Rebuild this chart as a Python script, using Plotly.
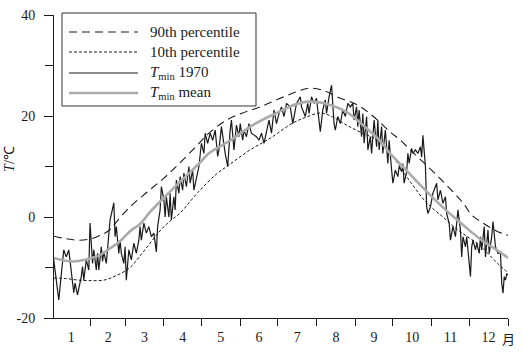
import plotly.graph_objects as go

# ---------------- data ----------------
p90_days = [2, 12, 22, 32, 42, 47, 52, 63, 77, 90, 102, 117, 126, 140, 153, 167, 181, 196, 206,
            217, 231, 244, 257, 271, 279, 291, 304, 312, 321, 329, 336, 345, 356, 365]
p90_vals = [-3.8, -4.3, -4.6, -4.3, -3.3, -2.5, -1.0, 2.0, 5.0, 7.7, 10.5, 14.3, 16.6, 19.2, 20.6,
            21.8, 23.3, 24.8, 25.5, 25.1, 23.5, 22.3, 20.0, 16.8, 15.2, 12.3, 9.3, 7.3, 5.0, 2.8,
            0.4, -1.2, -2.8, -3.6]

p10_days = [2, 12, 22, 32, 42, 52, 63, 70, 78, 86, 94, 103, 117, 132, 142, 159, 175, 193, 204,
            215, 225, 236, 247, 263, 272, 286, 300, 313, 322, 332, 342, 352, 358, 365]
p10_vals = [-12.1, -12.2, -12.5, -12.6, -12.5, -11.6, -10.0, -8.0, -5.5, -3.0, -1.0, 0.8, 4.8,
            8.5, 10.3, 13.3, 15.6, 18.6, 19.8, 20.6, 19.8, 18.2, 16.8, 14.9, 12.3, 7.3, 2.8, 0.0,
            -2.0, -3.8, -5.5, -8.0, -9.5, -11.0]

mean_days = [2, 10, 17, 28, 39, 47, 55, 63, 71, 79, 90, 103, 117, 126, 132, 142, 161, 180, 199,
             212, 223, 236, 249, 263, 270, 284, 297, 310, 324, 335, 345, 356, 365]
mean_vals = [-8.1, -8.6, -8.8, -8.4, -7.5, -6.2, -4.8, -2.8, -1.4, 1.0, 3.8, 7.0, 10.3, 12.6,
             13.6, 15.0, 18.2, 20.6, 22.6, 22.8, 22.2, 20.8, 18.2, 15.0, 12.8, 9.2, 5.8, 2.6,
             -0.5, -2.8, -4.8, -6.5, -8.1]

t1970_days = [1, 6, 10, 12, 14, 16, 18, 19, 21, 24, 25, 26, 28, 30, 31, 33, 34, 36, 37, 38, 40,
              41, 42, 44, 46, 47, 50, 51, 52, 54, 55, 56, 58, 59, 60, 62, 64, 66, 68, 70, 71, 72,
              74, 76, 78, 80, 82, 84, 85, 87, 88, 90, 91, 92, 94, 95, 96, 98, 99, 100, 102, 103,
              105, 106, 108, 110, 111, 113, 114, 116, 118, 120, 122, 123, 125, 127, 129, 131, 133,
              134, 136, 139, 141, 143, 144, 146, 148, 150, 151, 153, 154, 156, 158, 160, 164, 166,
              168, 170, 172, 174, 176, 178, 180, 182, 184, 186, 188, 191, 193, 196, 199, 200, 203,
              205, 206, 208, 210, 212, 213, 215, 217, 219, 220, 222, 224, 225, 226, 227, 229, 231,
              233, 235, 237, 239, 241, 242, 244, 245, 246, 248, 249, 250, 252, 253, 255, 256, 258,
              260, 261, 262, 264, 265, 267, 269, 270, 272, 273, 275, 277, 278, 280, 281, 282, 284,
              285, 286, 288, 289, 291, 293, 295, 296, 297, 299, 300, 301, 303, 305, 308, 309, 311,
              313, 315, 316, 318, 319, 321, 323, 325, 327, 328, 329, 331, 332, 333, 335, 336, 337,
              339, 340, 342, 343, 344, 346, 347, 349, 350, 352, 353, 355, 357, 359, 360, 361, 362,
              363, 364, 365]
t1970_vals = [-6.5, -16.4, -6.5, -7.9, -6.5, -10.5, -15.0, -13.1, -15.4, -11.8, -9.8, -12.5,
              -8.5, -10.5, -1.2, -9.2, -6.5, -10.5, -7.2, -10.5, -5.9, -8.8, -6.9, -9.2, -3.9,
              -0.6, 2.8, -3.9, -1.9, -7.2, -4.6, -7.2, -9.2, -5.9, -12.5, -6.5, -8.5, -5.2, -7.2,
              -4.6, -1.9, -4.6, -1.2, -3.2, -1.9, -3.9, -3.2, -6.9, -1.9, 1.4, 6.0, 3.4, 0.0, 4.0,
              0.0, 4.7, -0.6, 4.0, 1.4, 7.3, 4.7, 8.0, 5.3, 8.7, 6.0, 10.0, 6.7, 9.3, 5.3, 8.0,
              10.0, 14.6, 12.6, 16.6, 14.6, 16.6, 15.2, 17.2, 12.0, 13.3, 17.9, 12.6, 10.0, 17.2,
              19.2, 13.3, 18.2, 15.9, 18.5, 15.2, 17.2, 15.9, 18.5, 16.6, 15.9, 15.2, 16.6, 14.6,
              17.2, 19.2, 16.6, 21.2, 18.5, 20.5, 21.8, 19.9, 22.5, 21.8, 18.5, 22.5, 23.8, 21.8,
              19.9, 22.5, 20.5, 23.8, 22.5, 23.5, 21.2, 16.9, 21.2, 23.2, 20.5, 23.8, 26.1, 22.5,
              18.5, 17.2, 19.9, 18.5, 21.2, 19.9, 22.5, 21.8, 22.5, 19.2, 21.8, 17.9, 21.2, 15.9,
              20.5, 14.6, 19.9, 13.3, 15.9, 12.6, 19.2, 13.9, 19.2, 13.3, 17.9, 12.6, 17.2, 10.6,
              15.2, 9.3, 6.7, 9.3, 8.0, 10.0, 9.0, 10.6, 6.7, 9.0, 12.6, 10.6, 13.6, 12.6, 13.3,
              12.6, 13.9, 11.9, 16.2, 10.0, 2.0, 0.7, 2.0, 4.7, 6.7, 3.4, 5.3, 2.7, 4.0, 0.7,
              -1.3, -4.6, -1.9, -3.9, 1.4, -2.6, -7.9, -3.9, -5.9, -3.9, -6.5, -11.8, -5.9, -4.6,
              -6.5, -5.2, -7.2, -3.9, -6.5, -1.9, -7.9, -2.6, -7.2, -3.9, -0.9, -5.9, -7.2, -7.2,
              -13.1, -15.1, -11.8, -12.5, -11.2, -11.5]

month_edges = [31, 59, 90, 120, 151, 181, 212, 243, 273, 304, 334, 365]
month_centers = [16, 45.5, 74.5, 105, 135.5, 166, 196.5, 227.5, 258, 288.5, 319, 349.5]
month_labels = ["1", "2", "3", "4", "5", "6", "7", "8", "9", "10", "11", "12"]
y_ticks = [-20, 0, 20, 40]
y_labels = ["-20", "0", "20", "40"]

series_names = ["90th percentile", "10th percentile",
                "<i>T</i><sub>min</sub> 1970", "<i>T</i><sub>min</sub> mean"]

# ---------------- figure ----------------
FONT = "Liberation Serif, Times New Roman, serif"
INK = "#1a1a1a"
GREY = "#ababab"
styles = [dict(color=INK, width=1.1, dash="8px,5px"),
          dict(color=INK, width=1.0, dash="3px,2px"),
          dict(color=INK, width=1.2),
          dict(color=GREY, width=2.6)]

fig = go.Figure()
fig.add_trace(go.Scatter(x=p90_days, y=p90_vals, mode="lines", name=series_names[0],
                         line=dict(styles[0], shape="spline"), showlegend=False))
fig.add_trace(go.Scatter(x=p10_days, y=p10_vals, mode="lines", name=series_names[1],
                         line=dict(styles[1], shape="spline"), showlegend=False))
fig.add_trace(go.Scatter(x=t1970_days, y=t1970_vals, mode="lines", name=series_names[2],
                         line=styles[2], showlegend=False))
fig.add_trace(go.Scatter(x=mean_days, y=mean_vals, mode="lines", name=series_names[3],
                         line=dict(styles[3], shape="spline"), showlegend=False))

fig.update_layout(
    width=523, height=353,
    margin=dict(l=54, r=15, t=15, b=35),
    paper_bgcolor="white", plot_bgcolor="white",
    font=dict(family=FONT, size=14, color=INK),
    showlegend=False,
    xaxis=dict(range=[2.2, 365], showgrid=False, zeroline=False, automargin=False,
               showline=True, linecolor=INK, linewidth=1,
               tickmode="array", tickvals=month_centers, ticktext=month_labels,
               ticks="", ticklabelstandoff=6, ticklabeloverflow="allow",
               tickfont=dict(family=FONT, size=14),
               minor=dict(tickmode="array", tickvals=month_edges, ticks="outside",
                          ticklen=7, tickwidth=1, tickcolor=INK, showgrid=False)),
    yaxis=dict(range=[-20, 40], showgrid=False, zeroline=False, automargin=False,
               showline=True, linecolor=INK, linewidth=1,
               tickmode="array", tickvals=y_ticks, ticktext=y_labels,
               ticks="outside", ticklen=9, tickwidth=1, tickcolor=INK,
               ticklabelstandoff=6, ticklabeloverflow="allow",
               tickfont=dict(family=FONT, size=14),
               minor=dict(tick0=-20, dtick=10, ticks="outside", ticklen=8, tickwidth=1,
                          tickcolor=INK, showgrid=False)),
)

# y-axis title
fig.add_annotation(xref="paper", yref="paper", x=-0.097, y=0.525, text="<i>T</i>/℃",
                   textangle=-90, showarrow=False, xanchor="center", yanchor="middle",
                   font=dict(family=FONT, size=14, color=INK))

# legend box (drawn in plot-area fractions)
box_x0, box_x1, box_y0, box_y1 = 0.0176, 0.4449, 0.6997, 1.0066
row_y = [0.9439, 0.8779, 0.8086, 0.7426]
fig.add_shape(type="rect", xref="paper", yref="paper", x0=box_x0, x1=box_x1,
              y0=box_y0, y1=box_y1, fillcolor="white", line=dict(color="#333333", width=1),
              layer="above")
for name, st, ry in zip(series_names, styles, row_y):
    fig.add_shape(type="line", xref="paper", yref="paper", x0=0.0330, x1=0.1850,
                  y0=ry, y1=ry, line=st, layer="above")
    fig.add_annotation(xref="paper", yref="paper", x=0.2070, y=ry, text=name,
                       showarrow=False, xanchor="left", yanchor="middle",
                       font=dict(family=FONT, size=15, color=INK))

fig.add_annotation(x=365, y=0, xref="x", yref="paper", yshift=-20, text="月",
                   showarrow=False, xanchor="center", yanchor="middle",
                   font=dict(family="Noto Sans CJK SC", size=13, color=INK))

# remove the browser's default 8px page margin so the figure fills the window exactly
fig.write_html("out.html",
               config={"displayModeBar": False},
               post_script="document.body.style.margin='0';document.body.style.overflow='hidden';")
